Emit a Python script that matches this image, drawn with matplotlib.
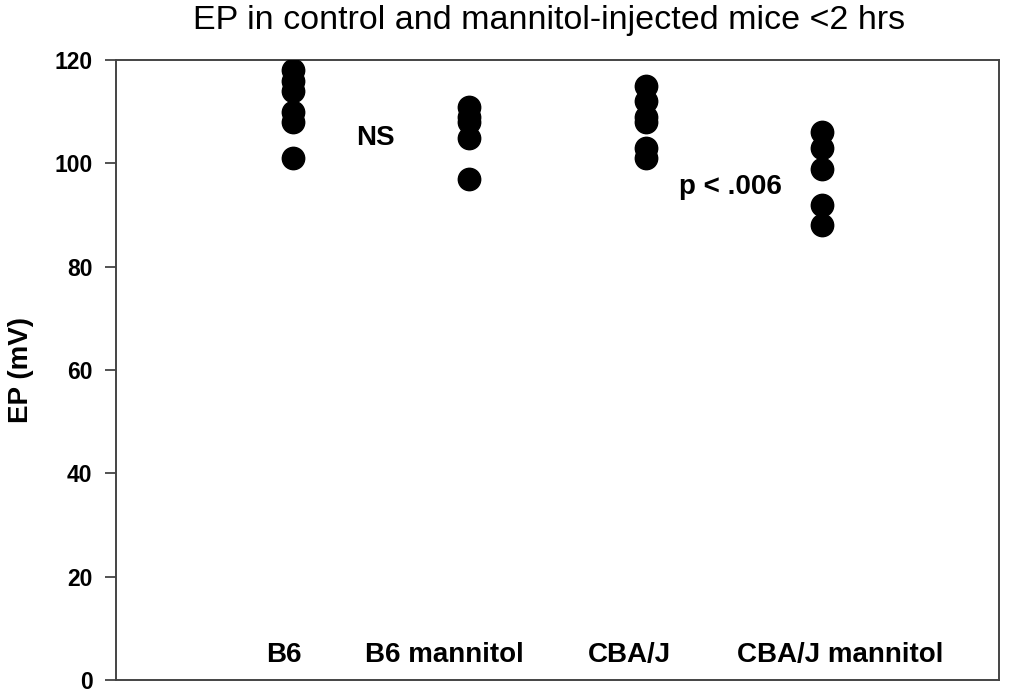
import matplotlib
matplotlib.use('Agg')
import matplotlib.pyplot as plt

plt.rcParams['font.family'] = ['Liberation Sans', 'DejaVu Sans']

# groups and EP readings (mV)
groups = ['B6', 'B6 mannitol', 'CBA/J', 'CBA/J mannitol']
b6 = [118, 116, 114, 110, 108, 101]
b6_mannitol = [111, 109, 108, 105, 97]
cba = [115, 112, 109, 108, 103, 101]
cba_mannitol = [106, 103, 99, 92, 88]
series = [b6, b6_mannitol, cba, cba_mannitol]

fig = plt.figure(figsize=(10.13, 6.94), dpi=100)
ax = fig.add_axes([0.1145, 0.0202, 0.8715, 0.8933])

for i, vals in enumerate(series):
    ax.scatter([i + 1] * len(vals), vals, s=260, color='black', zorder=3)

ax.set_xlim(0, 5)
ax.set_ylim(0, 120)
ax.set_yticks(range(0, 121, 20))
ax.set_xticks([])
ax.tick_params(axis='y', direction='out', length=8, width=1.3, color='#444444',
               labelsize=16.5, pad=9)
for lbl in ax.get_yticklabels():
    lbl.set_fontweight('bold')
for sp in ax.spines.values():
    sp.set_color('#444444')
    sp.set_linewidth(1.4)

# group names sit inside the axes near the bottom
label_x = [0.95, 1.86, 2.91, 4.10]
for x, g in zip(label_x, groups):
    ax.text(x, 4.8, g, ha='center', va='center', fontsize=20, fontweight='bold')

ax.text(1.47, 104.9, 'NS', ha='center', va='center', fontsize=20, fontweight='bold')
ax.text(3.48, 95.5, 'p < .006', ha='center', va='center', fontsize=20, fontweight='bold')

fig.text(0.021, 0.467, 'EP (mV)', rotation=90,
         ha='center', va='center', fontsize=20, fontweight='bold')
fig.text(0.542, 0.971, 'EP in control and mannitol-injected mice <2 hrs',
         ha='center', va='center', fontsize=24.5)

fig.savefig('out.png', dpi=100)
